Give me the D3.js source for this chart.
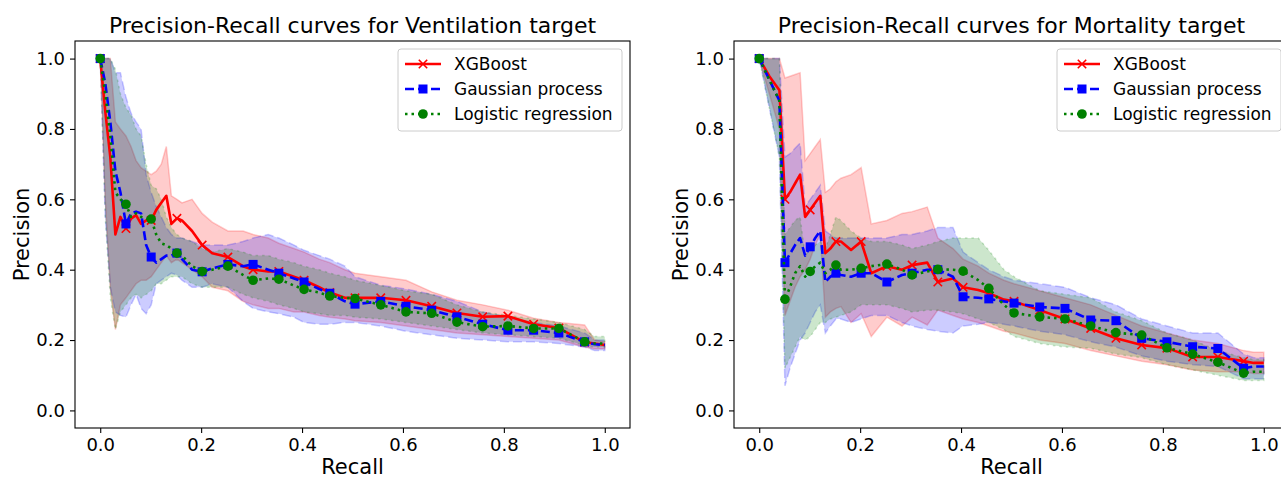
<!DOCTYPE html>
<html><head><meta charset="utf-8">
<script src="https://cdn.jsdelivr.net/npm/d3@7"></script>
<style>
html,body{margin:0;padding:0;background:#fff;}
svg{display:block;font-family:"DejaVu Sans",sans-serif;}
</style></head>
<body>
<svg id="chart" width="1281" height="481"></svg>
<script>
// recall grid (subset of linspace(0,1,100))
const recall = [0,.010,.020,.030,.040,.051,.061,.071,.081,.091,.101,.111,.121,.131,.141,.152,.162,.182,.202,.222,.253,.283,.303,.333,.354,.384,.404,.434,.455,.485,.505,.556,.606,.657,.707,.758,.808,.859,.909,.960,.980,1.0];
// grid positions that carry a marker (every 5th point of the original grid)
const markerPos = [0,5,10,15,18,20,22,24,26,28,30,31,32,33,34,35,36,37,38,39];
const yTicks = [0,0.2,0.4,0.6,0.8,1.0];
const xTicks = [0,0.2,0.4,0.6,0.8,1.0];
const seriesNames = ["XGBoost","Gaussian process","Logistic regression"];

// Ventilation target
const ventXgb   = [1.0,0.85,0.72,0.50,0.55,0.517,0.545,0.555,0.53,0.54,0.54,0.57,0.59,0.61,0.53,0.546,0.54,0.51,0.47,0.447,0.436,0.41,0.40,0.395,0.395,0.38,0.37,0.35,0.335,0.32,0.32,0.32,0.313,0.296,0.277,0.266,0.268,0.245,0.234,0.194,0.19,0.186];
const ventXgbHi = [1,1,1,0.82,0.80,0.78,0.75,0.71,0.69,0.68,0.67,0.68,0.70,0.75,0.61,0.60,0.59,0.60,0.56,0.535,0.51,0.51,0.50,0.49,0.475,0.46,0.45,0.43,0.42,0.40,0.39,0.38,0.37,0.337,0.313,0.30,0.285,0.262,0.25,0.243,0.2,0.195];
const ventXgbLo = [1,0.6,0.35,0.23,0.30,0.32,0.34,0.36,0.37,0.37,0.38,0.40,0.42,0.44,0.42,0.43,0.42,0.40,0.38,0.35,0.34,0.31,0.30,0.29,0.29,0.28,0.28,0.27,0.265,0.26,0.255,0.25,0.24,0.23,0.22,0.215,0.21,0.205,0.2,0.18,0.175,0.175];
const ventGp    = [1,0.93,0.82,0.68,0.62,0.53,0.56,0.565,0.56,0.47,0.436,0.42,0.43,0.44,0.44,0.447,0.43,0.40,0.394,0.404,0.415,0.41,0.415,0.40,0.39,0.375,0.365,0.345,0.333,0.31,0.302,0.31,0.296,0.285,0.266,0.245,0.228,0.228,0.22,0.195,0.188,0.186];
const ventGpHi  = [1,1,1,0.96,0.96,0.89,0.845,0.82,0.80,0.67,0.62,0.58,0.55,0.52,0.50,0.49,0.49,0.48,0.47,0.47,0.47,0.48,0.49,0.50,0.49,0.47,0.455,0.44,0.43,0.41,0.38,0.356,0.345,0.33,0.31,0.28,0.265,0.25,0.24,0.22,0.2,0.2];
const ventGpLo  = [1,0.55,0.35,0.28,0.27,0.265,0.30,0.33,0.29,0.275,0.30,0.36,0.37,0.38,0.39,0.385,0.37,0.35,0.35,0.36,0.35,0.31,0.29,0.28,0.275,0.265,0.25,0.245,0.245,0.25,0.25,0.24,0.225,0.215,0.205,0.20,0.195,0.195,0.19,0.18,0.17,0.17];
const ventLr    = [1,0.9,0.78,0.62,0.6,0.586,0.55,0.56,0.55,0.545,0.544,0.50,0.475,0.47,0.46,0.447,0.44,0.41,0.395,0.40,0.41,0.385,0.37,0.375,0.373,0.355,0.344,0.335,0.325,0.32,0.318,0.30,0.28,0.276,0.251,0.238,0.24,0.233,0.233,0.195,0.19,0.19];
const ventLrHi  = [1,1,1,0.97,0.9,0.86,0.84,0.80,0.78,0.70,0.64,0.63,0.60,0.55,0.52,0.50,0.49,0.48,0.46,0.45,0.46,0.45,0.44,0.44,0.43,0.42,0.41,0.40,0.39,0.38,0.37,0.355,0.34,0.33,0.30,0.28,0.27,0.26,0.25,0.23,0.21,0.21];
const ventLrLo  = [1,0.55,0.32,0.23,0.28,0.30,0.32,0.33,0.32,0.33,0.34,0.36,0.36,0.37,0.38,0.38,0.38,0.36,0.35,0.35,0.35,0.33,0.32,0.31,0.30,0.29,0.28,0.275,0.27,0.27,0.265,0.26,0.25,0.24,0.23,0.22,0.215,0.21,0.205,0.185,0.18,0.18];

// Mortality target
const mortXgb   = [1.0,0.975,0.95,0.93,0.91,0.60,0.62,0.645,0.67,0.55,0.57,0.59,0.61,0.447,0.46,0.48,0.48,0.456,0.48,0.39,0.41,0.40,0.413,0.42,0.365,0.375,0.35,0.342,0.333,0.315,0.31,0.285,0.26,0.233,0.205,0.186,0.177,0.152,0.152,0.14,0.135,0.135];
const mortXgbHi = [1,1,1,1,1,0.945,0.95,0.955,0.96,0.71,0.73,0.75,0.77,0.62,0.63,0.65,0.66,0.67,0.69,0.53,0.54,0.56,0.565,0.578,0.49,0.46,0.43,0.41,0.39,0.37,0.36,0.34,0.32,0.30,0.27,0.24,0.22,0.20,0.19,0.17,0.165,0.165];
const mortXgbLo = [1,0.95,0.9,0.85,0.80,0.27,0.31,0.35,0.38,0.40,0.43,0.47,0.50,0.265,0.28,0.29,0.295,0.25,0.275,0.21,0.265,0.24,0.265,0.243,0.285,0.27,0.26,0.25,0.24,0.225,0.22,0.20,0.19,0.17,0.155,0.14,0.13,0.115,0.11,0.11,0.105,0.105];
const mortGp    = [1,0.97,0.94,0.91,0.88,0.42,0.445,0.47,0.49,0.44,0.465,0.49,0.51,0.365,0.38,0.39,0.385,0.38,0.39,0.39,0.365,0.385,0.39,0.40,0.40,0.38,0.323,0.32,0.317,0.31,0.305,0.294,0.29,0.257,0.255,0.205,0.195,0.181,0.176,0.12,0.125,0.125];
const mortGpHi  = [1,1,1,1,1,0.72,0.73,0.745,0.76,0.58,0.60,0.62,0.64,0.51,0.50,0.49,0.49,0.49,0.49,0.49,0.49,0.50,0.50,0.51,0.52,0.52,0.45,0.42,0.40,0.38,0.37,0.36,0.35,0.32,0.30,0.26,0.24,0.22,0.22,0.16,0.15,0.15];
const mortGpLo  = [1,0.93,0.86,0.79,0.72,0.07,0.12,0.16,0.20,0.22,0.25,0.28,0.30,0.22,0.24,0.26,0.26,0.25,0.26,0.27,0.27,0.25,0.24,0.23,0.225,0.22,0.24,0.245,0.25,0.245,0.24,0.225,0.215,0.195,0.18,0.155,0.14,0.13,0.125,0.09,0.09,0.09];
const mortLr    = [1,0.97,0.94,0.91,0.88,0.316,0.35,0.39,0.41,0.38,0.395,0.41,0.42,0.39,0.40,0.413,0.40,0.40,0.404,0.41,0.416,0.40,0.385,0.395,0.401,0.40,0.396,0.37,0.347,0.30,0.277,0.266,0.26,0.24,0.221,0.214,0.178,0.16,0.137,0.106,0.11,0.11];
const mortLrHi  = [1,1,1,1,1,0.50,0.52,0.54,0.55,0.44,0.46,0.47,0.48,0.46,0.50,0.55,0.54,0.51,0.49,0.48,0.48,0.47,0.46,0.47,0.48,0.49,0.49,0.49,0.455,0.40,0.38,0.34,0.33,0.32,0.28,0.255,0.22,0.20,0.17,0.15,0.145,0.145];
const mortLrLo  = [1,0.93,0.86,0.79,0.72,0.12,0.15,0.18,0.21,0.20,0.21,0.23,0.25,0.25,0.26,0.265,0.27,0.28,0.30,0.30,0.30,0.29,0.28,0.285,0.285,0.28,0.275,0.26,0.25,0.23,0.21,0.19,0.18,0.177,0.16,0.15,0.13,0.115,0.10,0.085,0.085,0.085];

const styles = [
  {color:"#ff0000", dash:null, marker:"x"},
  {color:"#0000ff", dash:"9,4", marker:"s"},
  {color:"#008000", dash:"2.5,4", marker:"o"}
];

const panels = [
  {title:"Precision-Recall curves for Ventilation target", left:75,
   series:[[ventXgb,ventXgbLo,ventXgbHi],[ventGp,ventGpLo,ventGpHi],[ventLr,ventLrLo,ventLrHi]]},
  {title:"Precision-Recall curves for Mortality target", left:734,
   series:[[mortXgb,mortXgbLo,mortXgbHi],[mortGp,mortGpLo,mortGpHi],[mortLr,mortLrLo,mortLrHi]]}
];

const svg = d3.select("#chart");
const W = 555, plotTop = 41, plotBottom = 428;

function drawMarker(g, kind, cx, cy, color){
  if(kind==="x"){
    const s=4.2;
    g.append("path").attr("d",`M${cx-s},${cy-s}L${cx+s},${cy+s}M${cx-s},${cy+s}L${cx+s},${cy-s}`)
     .attr("stroke",color).attr("stroke-width",1.6).attr("fill","none");
  } else if(kind==="s"){
    g.append("rect").attr("x",cx-4.5).attr("y",cy-4.5).attr("width",9).attr("height",9).attr("fill",color);
  } else {
    g.append("circle").attr("cx",cx).attr("cy",cy).attr("r",4.8).attr("fill",color);
  }
}

panels.forEach((p,pi)=>{
  const x = d3.scaleLinear().domain([-0.05,1.05]).range([p.left, p.left+W]);
  const y = d3.scaleLinear().domain([-0.05,1.05]).range([plotBottom, plotTop]);
  const g = svg.append("g");
  const clipId = "clip"+pi;
  g.append("clipPath").attr("id",clipId).append("rect")
    .attr("x",p.left).attr("y",plotTop).attr("width",W).attr("height",plotBottom-plotTop);
  const plot = g.append("g").attr("clip-path",`url(#${clipId})`);

  // bands
  p.series.forEach((s,si)=>{
    const st = styles[si];
    const area = d3.area().x((d,i)=>x(recall[i])).y0((d,i)=>y(s[1][i])).y1((d,i)=>y(s[2][i]));
    plot.append("path").datum(recall).attr("d",area)
      .attr("fill",st.color).attr("fill-opacity",0.2)
      .attr("stroke",st.color).attr("stroke-opacity",0.2).attr("stroke-width",1.5)
      .attr("stroke-dasharray",st.dash);
  });
  // lines + markers
  p.series.forEach((s,si)=>{
    const st = styles[si];
    const line = d3.line().x((d,i)=>x(recall[i])).y((d,i)=>y(s[0][i]));
    plot.append("path").datum(recall).attr("d",line)
      .attr("fill","none").attr("stroke",st.color).attr("stroke-width",2.6)
      .attr("stroke-dasharray",st.dash).attr("stroke-linejoin","round");
    markerPos.forEach(k=>drawMarker(plot, st.marker, x(recall[k]), y(s[0][k]), st.color));
  });

  // frame
  g.append("rect").attr("x",p.left).attr("y",plotTop).attr("width",W).attr("height",plotBottom-plotTop)
    .attr("fill","none").attr("stroke","#000").attr("stroke-width",1.1);

  // axes
  const xa = g.append("g").attr("transform",`translate(0,${plotBottom})`)
    .call(d3.axisBottom(x).tickValues(xTicks).tickFormat(d3.format(".1f")).tickSize(5).tickPadding(5));
  const ya = g.append("g").attr("transform",`translate(${p.left},0)`)
    .call(d3.axisLeft(y).tickValues(yTicks).tickFormat(d3.format(".1f")).tickSize(5).tickPadding(5));
  [xa,ya].forEach(a=>{
    a.select(".domain").remove();
    a.selectAll("line").attr("stroke","#000").attr("stroke-width",1.1);
    a.selectAll("text").attr("font-size","18px").attr("fill","#000").attr("font-family","DejaVu Sans");
  });

  // title & labels
  g.append("text").attr("x",p.left+W/2).attr("y",33).attr("text-anchor","middle")
    .attr("font-size","22px").attr("fill","#000").text(p.title);
  g.append("text").attr("x",p.left+W/2).attr("y",474).attr("text-anchor","middle")
    .attr("font-size","21px").attr("fill","#000").text("Recall");
  g.append("text").attr("transform",`translate(${p.left-46},${(plotTop+plotBottom)/2}) rotate(-90)`)
    .attr("text-anchor","middle").attr("font-size","21px").attr("fill","#000").text("Precision");

  // legend
  const lw = 224, lh = 82;
  const lx = p.left + W - 8 - lw, ly = 49;
  const lg = g.append("g");
  lg.append("rect").attr("x",lx).attr("y",ly).attr("width",lw).attr("height",lh).attr("rx",3)
    .attr("fill","#fff").attr("fill-opacity",0.8).attr("stroke","#cccccc").attr("stroke-width",1);
  seriesNames.forEach((name,si)=>{
    const st = styles[si];
    const cy = ly + 15 + si*25;
    lg.append("line").attr("x1",lx+7).attr("x2",lx+43).attr("y1",cy).attr("y2",cy)
      .attr("stroke",st.color).attr("stroke-width",2.6).attr("stroke-dasharray",st.dash);
    drawMarker(lg, st.marker, lx+25, cy, st.color);
    lg.append("text").attr("x",lx+56).attr("y",cy+6).attr("font-size","17px").attr("fill","#000").text(name);
  });
});
</script>
</body></html>
